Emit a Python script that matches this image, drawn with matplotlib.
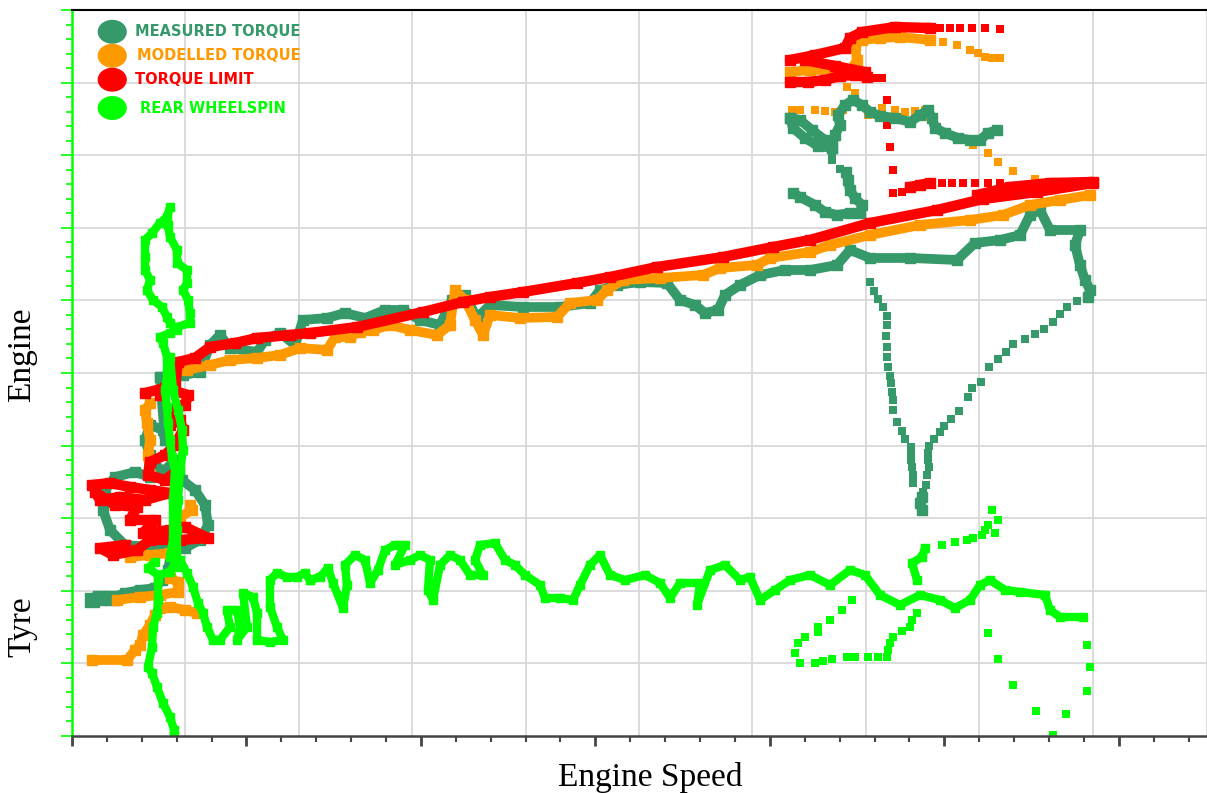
import numpy as np
import matplotlib.pyplot as plt
from matplotlib.patches import Ellipse
from matplotlib.ticker import MultipleLocator, NullFormatter

# axis span (chart units, no tick labels on the original)
x_max = 1134.0
y_max = 726.0

# colours of the four channels
c_meas = '#35996a'
c_model = '#ff9900'
c_limit = '#ff0000'
c_spin = '#00ff00'

#### measured torque
meas_band = [(88,359),(111,361),(128,364),(138,391),(148,401),(158,388),(185,384),(193,396),(208,403),
             (223,391),(231,416),(255,418),(273,423),(293,418),(313,426),(331,426),(348,416),(368,411),
             (380,436),(393,441),(405,418),(418,431),(451,429),(488,429),(518,433),(528,446),(545,451),
             (568,454),(595,453),(608,436),(623,431),(633,423),(646,426),(653,441),(668,451),(688,461),
             (713,466),(738,466),(765,471),(778,486),(798,478),(838,478),(885,476),(903,493),(928,496),
             (948,501),(958,521),(968,526),(978,506),(1008,506),(1003,491),(1008,471),(1013,456),
             (1018,446),(1016,439)]
meas_drop = [(1005,435),(995,429),(988,422),(981,414),(972,407),(963,402),(953,397),(941,392),(934,384),
             (926,377),(917,369),(909,354),(900,348),(896,339),(887,325),(879,317),(872,310),(868,304),
             (862,297),(857,290),(856,283),(856,276),(857,269),(855,261),(854,251),(851,244),
             (841,253),(841,261),(840,269),(839,276),(839,283),(839,289),(833,297),(830,305),(825,314),
             (821,326),(821,336),(820,344),(819,353),(818,360),(816,369),(815,379),(815,389),(814,400),
             (815,411),(815,420),(811,429),(806,437),(802,445),(798,454),
             (768,567),(760,576),(760,583)]
meas_tip = [(850,239),(848,233),(850,226)]
meas_hook = [(721,543),(728,539),(743,531),(753,524),(765,521),(778,523),(788,523),(790,531),(783,538),
             (778,546),(776,556),(774,564)]
meas_loop = [(718,618),(728,616),(740,606),(753,596),(760,588),(746,590),(733,598),(721,608),(718,618)]
meas_top = [(760,588),(763,601),(768,611),(766,621),(773,631),(781,636),(790,631),(798,624),(808,620),
            (823,618),(838,614),(848,621),(856,626),(860,618),(863,608),(873,603),(886,598),(898,596),
            (908,596),(916,603),(925,606)]
meas_start = [(20,136),(28,138),(40,138),(53,143),(68,146),(83,148),(90,156),(96,166),(98,176)]
meas_ring = [(98,191),(78,189),(53,191),(38,206),(31,226),(33,246),(43,259),(63,264),(78,259),(93,266),
             (103,276),(110,256),(123,246),(133,231),(136,211),(128,196),(113,188)]
meas_rise = [(88,266),(78,281),(73,296),(78,311),(91,306),(93,296),(88,359)]

#### modelled torque
model_band = [(115,366),(138,371),(158,376),(185,378),(208,381),(228,388),(255,386),(263,399),(278,399),
              (288,404),(301,406),(318,411),(338,406),(365,401),(378,411),(383,446),(393,436),(403,416),
              (411,401),(418,421),(448,418),(485,419),(498,433),(525,436),(535,446),(551,456),(588,458),
              (631,461),(648,468),(685,471),(698,478),(738,484),(758,491),(798,501),(848,511),(898,516),
              (931,521),(958,531),(988,536),(1018,541)]
model_stairs = [(20,76),(55,76),(63,86),(68,91),(71,101),(78,111),(83,121),(88,128),(98,129),(113,126),
                (125,123)]
model_mid = [(45,136),(68,139),(88,141),(106,144),(106,154),(98,158)]
model_low = [(58,179),(78,181),(98,183)]
model_knot = [(108,219),(120,226),(118,231)]
model_rise = [(78,261),(76,281),(78,296),(75,313),(73,326),(78,333)]
model_top = [(718,664),(738,666),(758,666),(778,664),(785,676),(783,691),(790,696),(808,698),(828,699),
             (858,696)]
model_dots = [(871,694),(885,691),(898,686),(906,683),(913,679),(920,678),(928,678),
              (775,649),(783,643),
              (720,626),(728,626),(743,626),(753,625),(763,624),(771,626),(796,621),(810,628),(823,626),
              (833,624),(843,625),(853,626),(858,619),
              (863,608),(878,601),(890,596),(901,591),(916,583),(926,574),(941,565),(963,557)]

#### torque limit
limit_band = [(88,341),(103,351),(106,374),(123,378),(138,389),(163,393),(185,398),(218,401),(238,403),
              (285,409),(351,424),(391,434),(418,439),(451,444),(505,453),(538,459),(585,469),(651,479),
              (701,489),(738,496),(798,513),(865,526),(911,537),(965,544),(1021,553)]
limit_tail = [(905,541),(938,549),(978,553),(1021,554)]
limit_rise = [(73,343),(93,348),(116,341),(113,331),(100,326),(98,311),(108,316),(111,306),(103,291),
              (93,281),(78,274),(76,261),(93,256),(106,266)]
limit_knot = [(20,251),(38,253),(58,249),(78,246),(98,243),(73,236),(48,239),(28,236),(23,244),(43,231),
              (65,229),(58,216),(83,216),(71,203),(98,206),(113,209),(136,198),(108,196),(78,196),(65,186),
              (41,181),(28,188),(53,191)]
limit_top = [(718,676),(743,681),(773,688),(778,698),(790,704),(823,709),(858,708)]
limit_top2 = [(718,654),(736,654),(753,656),(768,660),(783,661),(795,659)]
limit_top3 = [(733,676),(763,670),(793,664)]
limit_step = [(838,549),(848,551),(858,553)]
limit_dots = [(868,708),(878,708),(888,708),(900,708),(913,708),(928,707),
              (803,658),(810,658),(815,636),(815,611),(818,589),(821,566),(821,543),(830,544),
              (870,553),(880,553),(891,553),(903,553),(916,553),(928,553)]

#### rear wheelspin
spin_left = [(98,529),(95,519),(88,513),(80,503),(73,496),(73,479),(73,466),(78,456),(75,446),(81,436),
             (90,429),(95,419),(98,413),(105,406),(98,403),(88,399),(91,393),(95,379),(95,359),(93,346),
             (95,329),(96,313),(98,296),(100,279),(103,266),(101,236),(101,196),(98,179)]
spin_right = [(96,511),(98,499),(105,486),(105,473),(115,466),(115,453),(111,446),(116,436),(118,423),
              (118,413),(105,409)]
spin_down = [(98,379),(101,346),(106,326),(110,306),(111,286),(108,266),(106,236),(105,206),(105,169)]
spin_hook = [(105,176),(98,164),(86,161),(76,168),(83,174)]
spin_tail = [(86,156),(86,136),(85,123),(81,109),(80,89),(76,69),(80,63),(85,49),(91,33),(98,19),
             (102,6),(102,0)]
spin_zig = [(108,176),(115,163),(121,149),(126,133),(131,123),(135,109),(141,96),(148,96),(158,109),
            (155,126),(165,126),(168,109),(165,96),(175,109),(171,143),(181,139),(185,123),(185,96),
            (198,94),(211,96),(205,109),(198,129),(198,156),(205,163),(215,159),(225,159),(233,163),
            (238,156)]
spin_band = [(238,156),(248,159),(256,168),(261,153),(271,128),(275,151),(273,171),(283,181),(293,176),
             (298,153),(306,166),(313,186),(323,191),(333,191),(323,171),(338,176),(348,181),(358,176),
             (356,146),(361,136),(368,171),(378,181),(388,176),(398,161),(411,161),(403,176),(408,191),
             (423,193),(433,176),(443,171),(453,161),(468,151),(473,138),(488,138),(501,136),(508,151),
             (518,171),(528,181),(538,161),(553,156),(573,161),(588,153),(598,138),(608,153),(628,153),
             (625,131),(638,166),(653,171),(668,156),(678,159),(688,136),(703,146),(718,156),(738,161),
             (758,151),(778,166),(793,161),(808,141),(828,131),(848,141),(868,136),(883,128),(898,136),
             (908,151),(918,156),(933,146),(948,144),(973,141),(978,126),(988,119),(1011,119)]
spin_branch = [(845,156),(840,173),(850,179),(853,188)]
spin_dots = [(870,191),(883,194),(895,196),(901,198),(910,201),(913,206),(916,211),(926,216),(920,226),
             (923,203),
             (780,136),(770,126),(758,116),(746,109),(746,104),(733,99),(726,93),(723,83),(728,73),(743,73),
             (751,75),(760,77),(775,79),(783,79),(796,79),(806,79),(815,79),(816,86),(818,93),(821,99),
             (830,105),(838,109),(840,116),(845,123),
             (916,103),(926,77),(941,51),(964,25),(981,1),(994,22),(1015,91),(1018,69),(1015,45)]

legend_labels = ['MEASURED TORQUE', 'MODELLED TORQUE', 'TORQUE LIMIT', 'REAR WHEELSPIN']


def trail(ax, pts, c, lw):
    a = np.array(pts, dtype=float)
    ax.plot(a[:, 0], a[:, 1], '-', color=c, lw=lw, marker='s', ms=lw * 0.95,
            solid_joinstyle='round', solid_capstyle='round')


def dots(ax, pts, c, s=32):
    a = np.array(pts, dtype=float)
    ax.scatter(a[:, 0], a[:, 1], marker='s', s=s, color=c, linewidths=0)


fig = plt.figure(figsize=(12.07, 7.93), dpi=100)
ax = fig.add_axes([72 / 1207, 57 / 793, 1134 / 1207, 726 / 793])
ax.set_xlim(0, x_max)
ax.set_ylim(0, y_max)

# grid (independent of the tick marks on the original)
for k in range(1, 10):
    ax.axvline(k * x_max / 10, color='#d9d9d9', lw=1.3, zorder=0)
    ax.axhline(k * y_max / 10, color='#d9d9d9', lw=1.3, zorder=0)

for seg in [meas_band, meas_tip, meas_hook, meas_loop, meas_top, meas_start, meas_ring, meas_rise]:
    trail(ax, seg, c_meas, 7.0)
trail(ax, meas_start[:3], c_meas, 10.0)
dots(ax, meas_drop, c_meas)

for seg in [model_band, model_stairs, model_mid, model_low, model_knot, model_rise, model_top]:
    trail(ax, seg, c_model, 7.0)
dots(ax, model_dots, c_model)

for seg in [limit_band, limit_tail, limit_rise, limit_knot, limit_top, limit_top2, limit_top3, limit_step]:
    trail(ax, seg, c_limit, 7.5)
dots(ax, limit_dots, c_limit, 38)

for seg in [spin_left, spin_right, spin_down, spin_hook, spin_tail, spin_zig, spin_band, spin_branch]:
    trail(ax, seg, c_spin, 6.0)
dots(ax, spin_dots, c_spin)

# axes styling
ax.xaxis.set_major_locator(MultipleLocator(x_max / 6.5))
ax.xaxis.set_minor_locator(MultipleLocator(x_max / 6.5 / 5))
ax.yaxis.set_major_locator(MultipleLocator(y_max / 10))
ax.yaxis.set_minor_locator(MultipleLocator(y_max / 50))
for axis in (ax.xaxis, ax.yaxis):
    axis.set_major_formatter(NullFormatter())
    axis.set_minor_formatter(NullFormatter())
ax.tick_params(axis='x', which='major', direction='out', length=7, width=2, color='#444444')
ax.tick_params(axis='x', which='minor', direction='out', length=4, width=1.5, color='#444444')
ax.tick_params(axis='y', which='major', direction='out', length=8, width=1.2, color=c_spin)
ax.tick_params(axis='y', which='minor', direction='out', length=4, width=1.2, color=c_spin)
ax.spines['left'].set_color(c_spin)
ax.spines['left'].set_linewidth(1.8)
ax.spines['bottom'].set_color('#444444')
ax.spines['bottom'].set_linewidth(1.8)
ax.spines['top'].set_color('black')
ax.spines['top'].set_linewidth(1.5)
ax.spines['right'].set_color('#dddddd')

# legend drawn as coloured blobs + coloured bold text
cols = [c_meas, c_model, c_limit, c_spin]
ys = [0.970, 0.937, 0.904, 0.865]
tx = [0.0556, 0.0573, 0.0556, 0.0600]
for lab, c, yy, xx in zip(legend_labels, cols, ys, tx):
    ax.add_patch(Ellipse((0.0355, yy), 0.0245, 0.031, transform=ax.transAxes, color=c, zorder=5))
    ax.text(xx, yy, lab, transform=ax.transAxes, color=c, fontsize=10.5, fontweight='bold',
            family='DejaVu Sans', va='center', ha='left', zorder=5)

serif = 'Liberation Serif'
fig.text(22 / 1207, 1 - 355 / 793, 'Engine', rotation=90, ha='center', va='center', family=serif, fontsize=24)
fig.text(22 / 1207, 1 - 627 / 793, 'Tyre', rotation=90, ha='center', va='center', family=serif, fontsize=24)
fig.text(650 / 1207, 1 - 786 / 793, 'Engine Speed', ha='center', va='baseline', family=serif, fontsize=24)

fig.savefig('out.png', dpi=100)
